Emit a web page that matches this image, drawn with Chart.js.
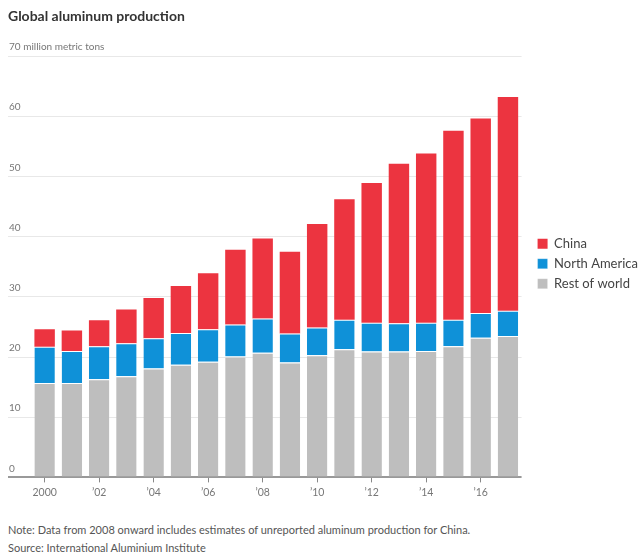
<!DOCTYPE html>
<html>
<head>
<meta charset="utf-8">
<script src="https://cdn.jsdelivr.net/npm/chart.js@4"></script>
<style>
  body { margin: 0; background: #fff; font-family: Lato, "Open Sans", sans-serif; }
  #wrap { position: relative; width: 639px; height: 556px; }
  #titulo { position: absolute; left: 8px; top: 7px; font-size: 14px; font-weight: bold; color: #333; }
  #grafico { position: absolute; left: 0; top: 0; width: 639px; height: 503px; }
  .nota { position: absolute; left: 8px; font-size: 11px; color: #555; }
</style>
</head>
<body>
<div id="wrap">
  <div id="grafico"><canvas id="chartAluminio"></canvas></div>
  <div id="titulo">Global aluminum production</div>
  <div class="nota" style="top:523px">Note: Data from 2008 onward includes estimates of unreported aluminum production for China.</div>
  <div class="nota" style="top:541px">Source: International Aluminium Institute</div>
</div>
<script>
// Años (eje x)
const anios = ['2000', '2001', '2002', '2003', '2004', '2005', '2006', '2007', '2008',
  '2009', '2010', '2011', '2012', '2013', '2014', '2015', '2016', '2017'];

// Millones de toneladas métricas
const restoMundo = [15.7, 15.7, 16.3, 16.8, 18.1, 18.7, 19.2, 20.1, 20.7,
  19.1, 20.3, 21.3, 20.9, 20.9, 21.0, 21.8, 23.2, 23.5];
const norteamerica = [6.0, 5.3, 5.5, 5.5, 5.0, 5.3, 5.4, 5.3, 5.7,
  4.8, 4.6, 4.9, 4.8, 4.7, 4.7, 4.4, 4.1, 4.2];
const china = [2.9, 3.4, 4.3, 5.6, 6.7, 7.8, 9.3, 12.4, 13.3,
  13.6, 17.2, 20.0, 23.2, 26.5, 28.1, 31.4, 32.3, 35.5];

const ticksY = [0, 10, 20, 30, 40, 50, 60, 70];

const ctx = document.getElementById('chartAluminio').getContext('2d');

function serie(label, data, color, borde) {
  return {
    label: label,
    data: data,
    backgroundColor: color,
    borderColor: '#ffffff',
    borderWidth: borde ? { top: 1, left: 0, right: 0, bottom: 0 } : 0,
    borderSkipped: false,
    barPercentage: 0.75,
    categoryPercentage: 1.0
  };
}

// deja un hueco entre las barras y la leyenda
const separarLeyenda = {
  id: 'separarLeyenda',
  afterLayout(chart) {
    chart.legend.left += 9;
    chart.legend.right += 9;
    chart.legend.top -= 3;
    chart.legend.bottom -= 3;
  }
};

new Chart(ctx, {
  type: 'bar',
  data: {
    labels: anios,
    datasets: [
      serie('Rest of world', restoMundo, '#bebebe', true),
      serie('North America', norteamerica, '#0f91d8', true),
      serie('China', china, '#ec3440', false)
    ]
  },
  plugins: [separarLeyenda],
  options: {
    responsive: true,
    maintainAspectRatio: false,
    animation: false,
    layout: { padding: { left: 8, right: 0, top: 56, bottom: 0 } },
    plugins: {
      tooltip: { enabled: false },
      legend: {
        position: 'right',
        fullSize: false,
        reverse: true,
        labels: {
          boxWidth: 10,
          boxHeight: 10,
          padding: 7,
          color: '#444',
          font: { family: 'Lato', size: 13 }
        }
      }
    },
    scales: {
      x: {
        stacked: true,
        border: { display: false },
        grid: {
          offset: false,
          drawOnChartArea: false,
          drawTicks: true,
          tickLength: 5,
          color: (c) => (c.index % 2 === 0 ? '#888' : 'rgba(0,0,0,0)')
        },
        ticks: {
          autoSkip: false,
          maxRotation: 0,
          padding: 4,
          color: '#777',
          font: { family: 'Lato', size: 10.5 },
          callback: function (v, i) {
            if (i % 2 !== 0) return '';
            return i === 0 ? anios[i] : '\u2019' + anios[i].slice(2);
          }
        }
      },
      y: {
        stacked: true,
        min: 0,
        max: 70,
        afterFit: (s) => { s.width = 23; },
        afterBuildTicks: (s) => { s.ticks = ticksY.map(v => ({ value: v })); },
        border: { display: false },
        grid: {
          drawTicks: true,
          tickLength: 23,
          color: (c) => (c.tick && c.tick.value === 0 ? '#999' : '#e8e8e8'),
          lineWidth: (c) => (c.tick && c.tick.value === 0 ? 2 : 1)
        },
        ticks: {
          mirror: true,
          crossAlign: 'near',
          padding: -22,
          labelOffset: -9,
          color: '#777',
          font: { family: 'Lato', size: 10 },
          callback: (v) => (v === 70 ? '70 million metric tons' : v)
        }
      }
    }
  }
});
</script>
</body>
</html>
